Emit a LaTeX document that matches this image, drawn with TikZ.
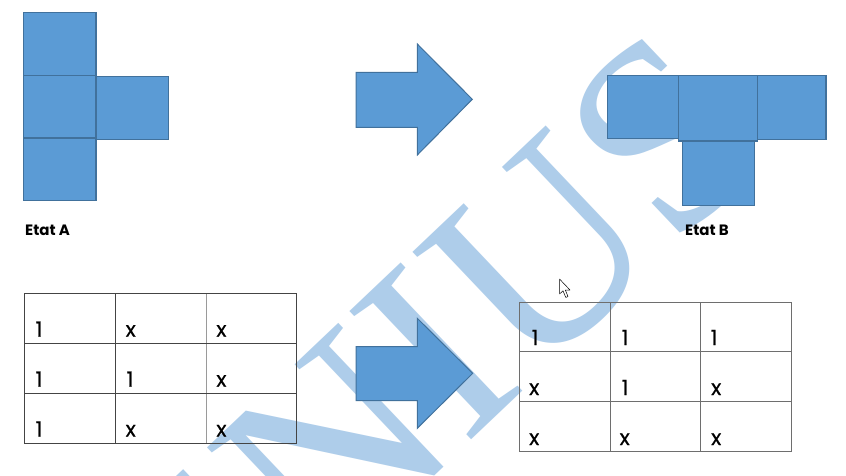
\documentclass[tikz,border=0pt]{standalone}
\usepackage{fontspec}
\setmainfont{Poppins}
\newfontfamily\wmfont{Liberation Serif}
\newfontfamily\cellfont{Poppins}[FakeBold=0.5]
\definecolor{sqfill}{HTML}{5B9BD5}
\definecolor{sqline}{HTML}{41719C}
\definecolor{wm}{RGB}{174,205,234}
\definecolor{tdark}{HTML}{444444}
\definecolor{tlight}{HTML}{9A9A9A}
\definecolor{tmid}{HTML}{6E6E6E}
\tikzset{
  sq/.style={draw=sqline, fill=sqfill, line width=1.3pt, inner sep=0pt, outer sep=0pt,
             minimum width=72.5pt, minimum height=62.5pt},
  bigarrow/.style={draw=sqline, fill=sqfill, line width=1pt, line join=miter},
  lbl/.style={font=\fontsize{15}{15}\selectfont\bfseries, anchor=base west, inner sep=0pt},
  cell/.style={font=\cellfont\fontsize{21}{21}\selectfont, anchor=base west, inner sep=0pt},
}
\begin{document}
\begin{tikzpicture}[x=1pt,y=-1pt]
\useasboundingbox (0,0) rectangle (846,475);
\fill[white] (0,0) rectangle (846,475);
% watermark
\begin{scope}
\clip (0,0) rectangle (846,475);
\node[rotate=43.5, anchor=base west, inner sep=0pt, text=wm, font=\wmfont\fontsize{270}{270}\selectfont] (wm) at (62.3,828.9) {GENIUS};
\end{scope}
% Etat A
\node[sq] (a1) at (59.7,43.9) {};
\node[sq] (a2) at (59.7,106.4) {};
\node[sq] (a3) at (59.7,169.5) {};
\node[sq] (a4) at (132.5,108) {};
\node[lbl] (la) at (25,235) {Etat A};
% Etat B
\node[sq, minimum width=71.3pt, minimum height=63pt] (b1) at (643.3,107.2) {};
\node[sq, minimum width=71.7pt, minimum height=63.6pt] (b3) at (790.2,107.5) {};
\node[sq, minimum width=72pt, minimum height=64.4pt] (b4) at (718.3,173.5) {};
\node[sq, minimum width=79.4pt, minimum height=65.7pt] (b2) at (718,108.2) {};
\node[lbl] (lb) at (685,235.7) {Etat B};
% arrows
\draw[bigarrow] (356,72.3) -- (417.3,72.3) -- (417.3,44) -- (472.3,99.3) -- (417.3,155) -- (417.3,127.3) -- (356,127.3) -- cycle;
\draw[bigarrow] (356,346.7) -- (417.3,346.7) -- (417.3,318.3) -- (472.7,373.3) -- (417.3,428.3) -- (417.3,400.7) -- (356,400.7) -- cycle;
% table A
\begin{scope}[line width=1pt]
\draw[tlight] (206.3,293.3) -- (206.3,443.3);
\draw[tdark] (115.7,293.3) -- (115.7,443.3);
\draw[tdark] (24.3,343.3) -- (296.7,343.3) (24.3,393.3) -- (296.7,393.3);
\draw[tdark] (24.3,293.3) rectangle (296.7,443.3);
\end{scope}
\node[cell] (ta11) at (35.5,336.7) {1};
\node[cell] (ta12) at (125.5,336.7) {x};
\node[cell] (ta13) at (216.2,336.7) {x};
\node[cell] (ta21) at (35.5,386.7) {1};
\node[cell] (ta22) at (126.5,386.7) {1};
\node[cell] (ta23) at (216.2,386.7) {x};
\node[cell] (ta31) at (35.5,436.5) {1};
\node[cell] (ta32) at (125.5,436.5) {x};
\node[cell] (ta33) at (216.2,436.5) {x};
% table B
\begin{scope}[line width=1pt, tmid]
\draw (610,302.3) -- (610,451.7) (700.7,302.3) -- (700.7,451.7);
\draw (519,351.7) -- (791.7,351.7) (519,401.7) -- (791.7,401.7);
\draw (519,302.3) rectangle (791.7,451.7);
\end{scope}
\node[cell] (tb11) at (531.5,345) {1};
\node[cell] (tb12) at (621.5,345) {1};
\node[cell] (tb13) at (710.5,345) {1};
\node[cell] (tb21) at (529,395) {x};
\node[cell] (tb22) at (621.5,395) {1};
\node[cell] (tb23) at (711,395) {x};
\node[cell] (tb31) at (529,445) {x};
\node[cell] (tb32) at (619.5,445) {x};
\node[cell] (tb33) at (711,445) {x};
% cursor
\draw[black, fill=white, line width=0.5pt, line join=round] (559.5,279) -- (559.5,294) -- (563,290.8) -- (565.8,297.5) -- (568,296.5) -- (565.3,290) -- (570,290) -- cycle;
\end{tikzpicture}
\end{document}
